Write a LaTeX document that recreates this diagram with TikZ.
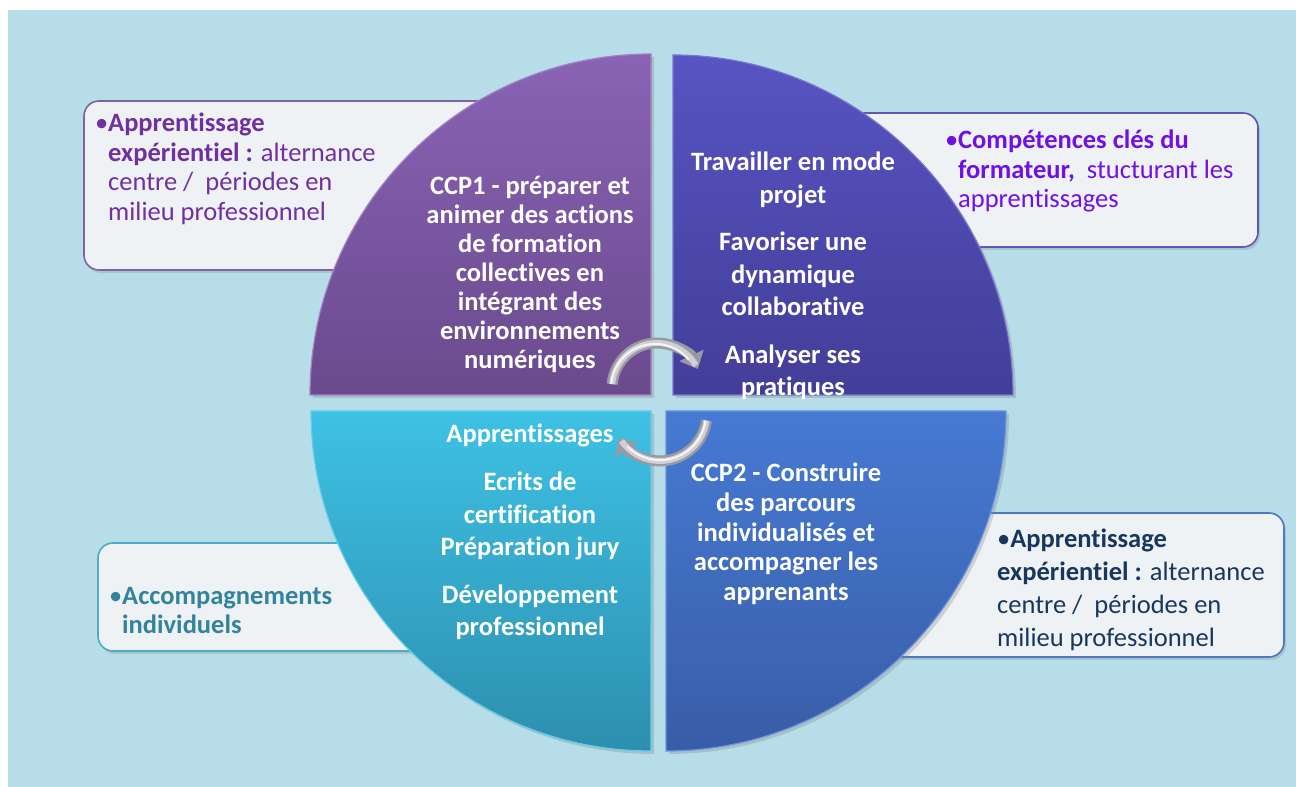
\documentclass[tikz,border=0pt]{standalone}
\usepackage{fontspec}
\setmainfont{Carlito}[Ligatures=NoCommon]
\usetikzlibrary{arrows.meta,shadows}
\definecolor{bgblue}{HTML}{B6DDE8}
\definecolor{boxfill}{HTML}{EFF2F4}
\definecolor{tltop}{HTML}{8A63B5}
\definecolor{tlbot}{HTML}{6A4A8D}
\definecolor{trtop}{HTML}{5854C2}
\definecolor{trbot}{HTML}{423E98}
\definecolor{bltop}{HTML}{3EC1E4}
\definecolor{blbot}{HTML}{2D8FAF}
\definecolor{brtop}{HTML}{467AD3}
\definecolor{brbot}{HTML}{395DA7}
\definecolor{tlborder}{HTML}{8064A2}
\definecolor{trborder}{HTML}{6354B8}
\definecolor{blborder}{HTML}{4BACC6}
\definecolor{brborder}{HTML}{4F78BD}
\definecolor{tltext}{HTML}{7030A0}
\definecolor{trtext}{HTML}{7010E8}
\definecolor{bltext}{HTML}{31849B}
\definecolor{brtext}{HTML}{17375E}
\definecolor{arrowgray}{HTML}{9A9AA2}
\definecolor{arrowmid}{HTML}{CFCFD5}
\begin{document}
\begin{tikzpicture}[x=1pt,y=1pt,
  infobox/.style={rounded corners=15pt, fill=boxfill, line width=1.6pt,
    drop shadow={opacity=0.25, shadow xshift=2pt, shadow yshift=-3pt}},
  quad/.style={line width=1.2pt,
    drop shadow={opacity=0.3, shadow xshift=3pt, shadow yshift=-3pt}},
  quadtext/.style={text=white, align=center, inner sep=0pt,
    font=\fontsize{26.5}{29}\selectfont\bfseries},
  boxtext/.style={align=left, inner sep=0pt, anchor=north west,
    font=\fontsize{26.5}{29.5}\selectfont},
  cyclearrow/.style={line width=11pt, draw=arrowgray,
    -{Triangle[width=26pt,length=15pt]}},
  arrowbody/.style={line width=6pt, draw=arrowmid},
  arrowlight/.style={line width=2pt, draw=white, opacity=0.8}
]
\useasboundingbox (0,0) rectangle (1296,787);
\fill[bgblue] (8,0) rectangle (1296,777);

% information boxes (partly hidden by the quarters)
\draw[infobox, draw=tlborder] (84,517) rectangle (560,686);
\draw[infobox, draw=trborder] (780,540) rectangle (1258,674);
\draw[infobox, draw=blborder] (98,136) rectangle (520,244);
\draw[infobox, draw=brborder] (800,130) rectangle (1284,274);

% quarters
\draw[quad, top color=tltop, bottom color=tlbot, draw=tltop!80!white]
  (651,392) -- (310,392) arc[start angle=180, end angle=90, radius=341] -- cycle;
\draw[quad, top color=trtop, bottom color=trbot, draw=trtop!80!white]
  (673,392) -- (1013,392) arc[start angle=0, end angle=90, radius=340] -- cycle;
\draw[quad, top color=bltop, bottom color=blbot, draw=bltop!80!white]
  (651,376) -- (311,376) arc[start angle=180, end angle=270, radius=340] -- cycle;
\draw[quad, top color=brtop, bottom color=brbot, draw=brtop!80!white]
  (666,376) -- (1006,376) arc[start angle=0, end angle=-90, radius=340] -- cycle;

% quarter texts
\node[quadtext] (qTL) at (530,513) {CCP1 - préparer et\\animer des actions\\de formation\\collectives en\\intégrant des\\environnements\\numériques};
\node[quadtext, font=\fontsize{26.5}{32.5}\selectfont\bfseries] (qTR) at (793,511)
  {Travailler en mode\\projet\\[15pt]Favoriser une\\dynamique\\collaborative\\[15pt]Analyser ses\\pratiques};
\node[quadtext, font=\fontsize{26.5}{32.5}\selectfont\bfseries] (qBL) at (530,255)
  {Apprentissages\\[16pt]Ecrits de\\certification\\Préparation jury\\[15pt]Développement\\professionnel};
\node[quadtext, font=\fontsize{26.5}{29.7}\selectfont\bfseries] (qBR) at (786,253) {CCP2 - Construire\\des parcours\\individualisés et\\accompagner les\\apprenants};

% box texts
\node[boxtext, text=tltext] (tTL) at (108,674)
  {\llap{•}\textbf{Apprentissage}\\\textbf{expérientiel :} alternance\\centre /\ \ périodes en\\milieu professionnel};
\node[boxtext, text=trtext] (tTR) at (958,657)
  {\llap{•}\textbf{Compétences clés du}\\\textbf{formateur,}\ \ stucturant les\\apprentissages};
\node[boxtext, text=bltext] (tBL) at (122,200)
  {\llap{•}\textbf{Accompagnements}\\\textbf{individuels}};
\node[boxtext, text=brtext, font=\fontsize{26.5}{33}\selectfont] (tBR) at (997,258)
  {•\textbf{Apprentissage}\\\textbf{expérientiel :} alternance\\centre /\ \ périodes en\\milieu professionnel};

% cycle arrows
\coordinate (a1s) at (612.2,402.9);
\coordinate (a2s) at (706.5,366.5);
\draw[cyclearrow] (a1s) arc[start angle=175, end angle=25, radius=45];
\draw[arrowbody] (a1s) arc[start angle=175, end angle=30, radius=45];
\draw[arrowlight] ([xshift=-1pt]a1s) arc[start angle=175, end angle=40, radius=44];
\draw[cyclearrow] (a2s) arc[start angle=-8, end angle=-150, radius=47];
\draw[arrowbody] (a2s) arc[start angle=-8, end angle=-145, radius=47];
\draw[arrowlight] ([xshift=-1pt]a2s) arc[start angle=-8, end angle=-135, radius=46];
\end{tikzpicture}
\end{document}
